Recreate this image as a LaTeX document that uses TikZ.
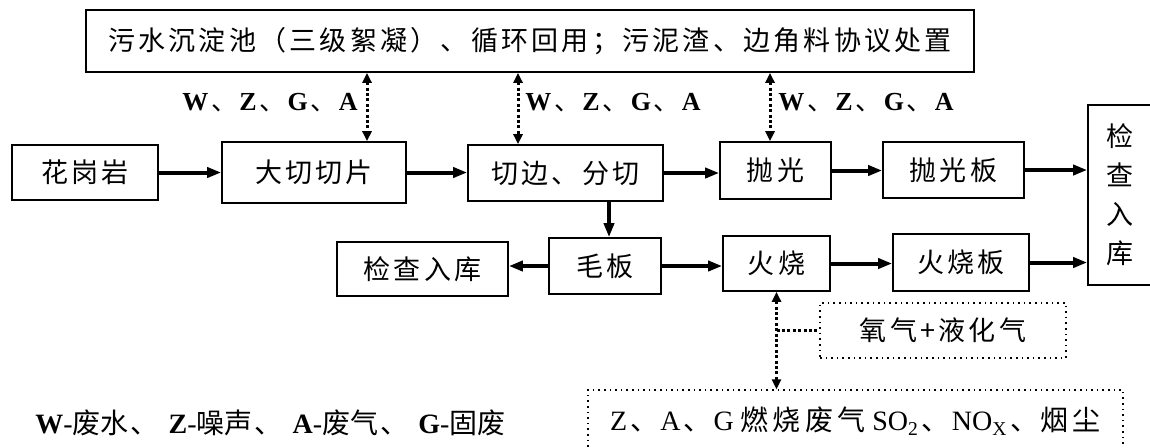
\documentclass[tikz,border=0pt]{standalone}
\usepackage{fontspec}
\setmainfont{Liberation Serif}
\newfontfamily\cjk[LetterSpace=12]{Noto Sans CJK SC}
\newfontfamily\cjkw[LetterSpace=15]{Noto Sans CJK SC}
\newfontfamily\cjkn{Noto Sans CJK SC}
\usetikzlibrary{arrows.meta,calc}
\newcommand\dn{\hspace{1.5pt}{\cjkn\mdseries 、}\hspace{1pt}}
\newcommand\lgc[1]{{\fontsize{14}{15}\cjkn #1}}
\newcommand\bx[7][]{\node[box,#1,minimum width={(#5-#3)*0.5pt},minimum height={(#6-#4)*0.5pt}] (#2) at ({(#3+#5)/2},{(#4+#6)/2}) {#7};}
\begin{document}
\begin{tikzpicture}[x=0.5pt,y=-0.5pt,
  box/.style={draw,line width=0.8pt,inner sep=0pt,font=\fontsize{13.5}{15}\cjk},
  dbox/.style={dotted,line width=0.7pt},
  flow/.style={line width=2pt,-{Triangle[length=7pt,width=5pt]}},
  dotarr/.style={line width=1.5pt,dash pattern=on 1.5pt off 1.2pt,{Triangle[length=5pt,width=4.5pt]}-{Triangle[length=5pt,width=4.5pt]}},
  dline/.style={line width=1.5pt,dash pattern=on 1.5pt off 1.2pt},
  lbl/.style={font=\fontsize{13}{15}\selectfont\bfseries,inner sep=0pt}]
\useasboundingbox (0,0) rectangle (1150,447);
% boxes
\bx{top}{86}{10}{974}{72}{污水沉淀池（三级絮凝）、循环回用；污泥渣、边角料协议处置}
\bx{hg}{12}{145}{158}{200}{花岗岩}
\bx{dq}{222}{142}{406}{203}{大切切片}
\bx{qb}{468}{145}{663}{201}{切边、分切}
\bx{pg}{720}{142}{831}{199}{抛光}
\bx{pgb}{883}{142}{1024}{198}{抛光板}
\bx[align=center,font=\fontsize{13.5}{19.5}\cjkn]{jk}{1088}{105}{1176}{285}{\hspace*{-12pt}检\\\hspace*{-12pt}查\\\hspace*{-12pt}入\\\hspace*{-12pt}库}
\bx{jk2}{337}{242}{508}{296}{检查入库}
\bx{mb}{549}{238}{661}{294}{毛板}
\bx{hs}{723}{236}{830}{291}{火烧}
\bx{hsb}{893}{234}{1029}{291}{火烧板}
\bx[dbox]{ox}{820}{303}{1066}{358}{氧气+液化气}
\bx[dbox,font=\fontsize{14}{15}\selectfont]{bt}{588}{390}{1123}{452}{Z\dn A\dn G {\cjkw 燃烧废气} SO\textsubscript{2}\dn NO\textsubscript{X}\dn {\cjkw 烟尘}}
% labels
\node[lbl,anchor=east] (l1) at (358,103) {W\dn Z\dn G\dn A};
\node[lbl,anchor=west] (l2) at (525,103) {W\dn Z\dn G\dn A};
\node[lbl,anchor=west] (l3) at (778,103) {W\dn Z\dn G\dn A};
\node[font=\fontsize{14}{15}\selectfont\bfseries,anchor=west,inner sep=0pt] (leg) at (35,423)
  {W\mdseries-\lgc{废水\hspace{1pt}、\hspace{5pt}}\bfseries Z\mdseries-\lgc{噪声\hspace{1pt}、\hspace{5pt}}\bfseries A\mdseries-\lgc{废气\hspace{1pt}、\hspace{5pt}}\bfseries G\mdseries-\lgc{固废}};
% coordinates
\coordinate (c1) at (367,0);
\coordinate (c2) at (518,0);
\coordinate (c3) at (770,0);
\coordinate (c4) at (609,0);
% connectors
\draw[dotarr] (top.south -| c1) -- (dq.north -| c1);
\draw[dotarr] (top.south -| c2) -- (qb.north -| c2);
\draw[dotarr] (top.south -| c3) -- (pg.north -| c3);
\draw[flow] (hg.east) -- (hg.east -| dq.west);
\draw[flow] (dq.east) -- (dq.east -| qb.west);
\draw[flow] (qb.east) -- (qb.east -| pg.west);
\draw[flow] (pg.east) -- (pg.east -| pgb.west);
\draw[flow] (pgb.east) -- (pgb.east -| jk.west);
\draw[flow] (qb.south -| c4) -- (mb.north -| c4);
\draw[flow] (mb.west) -- (mb.west -| jk2.east);
\draw[flow] (mb.east) -- (mb.east -| hs.west);
\draw[flow] (hs.east) -- (hs.east -| hsb.west);
\draw[flow] (hsb.east) -- (hsb.east -| jk.west);
\draw[dotarr] (hs.south) -- (hs.south |- bt.north);
\draw[dline] (hs.south |- ox.west) -- (ox.west);
\end{tikzpicture}
\end{document}
